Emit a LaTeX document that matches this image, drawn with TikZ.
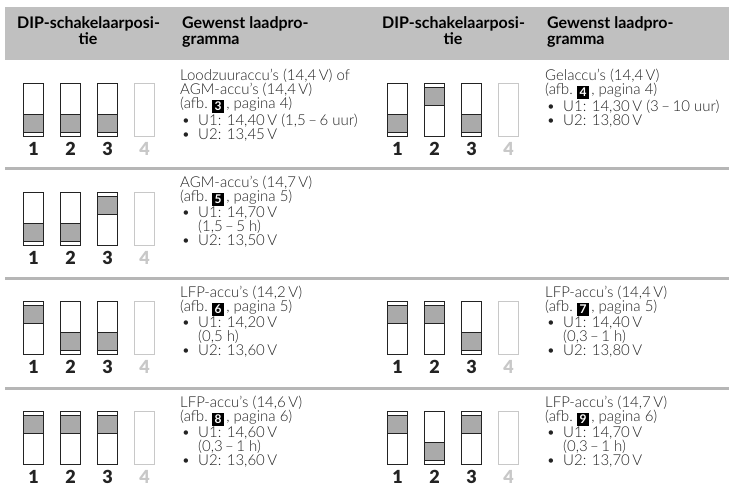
\documentclass[tikz,border=0pt]{standalone}
\usepackage{fontspec}
\setmainfont{Lato}[UprightFont=* Light, BoldFont=* Bold]
\newfontfamily\digitfont{Lato Black}
\usetikzlibrary{positioning}
\definecolor{hdrgray}{RGB}{192,192,192}
\definecolor{rulegray}{RGB}{182,182,182}
\definecolor{slidegray}{RGB}{170,170,170}
\definecolor{offgray}{RGB}{200,200,200}
\definecolor{ink}{RGB}{35,35,35}
\newcommand{\fignr}[1]{{\setlength{\fboxsep}{2.2pt}\raisebox{-2pt}{\colorbox{black}{\makebox[8pt]{\textcolor{white}{\fontsize{12}{12}\selectfont\bfseries #1}}}}\hspace{2pt}}}
\newcommand{\bul}{\makebox[18pt][l]{\hspace{1.5pt}\textbullet}}
\newcommand{\ind}{\hspace*{18pt}}
\begin{document}
\fontsize{15}{14}\selectfont
\begin{tikzpicture}[x=1pt,y=-1pt,
    sw/.style={draw=ink,line width=1.1pt,minimum width=20pt,minimum height=53pt,inner sep=0,anchor=north west},
    slider/.style={draw=ink,fill=slidegray,line width=1.1pt,minimum width=20pt,minimum height=18pt,inner sep=0},
    digit/.style={font=\fontsize{18}{18}\selectfont\digitfont,text=ink,anchor=base,inner sep=0},
    txt/.style={font=\fontsize{15}{14}\selectfont,text=ink,align=left,anchor=north west,inner sep=0},
    hdr/.style={font=\fontsize{16}{16}\selectfont\bfseries,text=black,inner sep=0}]
  % #1 name, #2 x, #3 top, #4-#6 slider up (1) or down (0)
  \newcommand{\dip}[6]{%
    \foreach \k/\s in {1/#4,2/#5,3/#6}{%
      \node[sw] (#1-\k) at ({#2+(\k-1)*37},#3) {};
      \ifnum\s=1
        \node[slider,anchor=north] (#1-\k-s) at ([yshift=-4pt]#1-\k.north) {};
      \else
        \node[slider,anchor=south] (#1-\k-s) at ([yshift=4pt]#1-\k.south) {};
      \fi
      \node[digit] (#1-n\k) at ([yshift=-72pt]#1-\k.north) {\k};
    }
    \node[sw,draw=offgray] (#1-4) at ({#2+111},#3) {};
    \node[digit,text=offgray] (#1-n4) at ([yshift=-72pt]#1-4.north) {4};
  }
  \useasboundingbox (0,0) rectangle (729,496);
  % header
  \fill[hdrgray] (5,7) rectangle (729,60);
  \foreach \dx/\t in {0/l,365/r}{
    \node[hdr,anchor=base west] (h\t-dip) at (17+\dx,28) {DIP-schakelaarposi-};
    \node[hdr,anchor=base] (h\t-tie) at (88+\dx,44) {tie};
    \node[hdr,anchor=base west] (h\t-prog) at (182+\dx,28) {Gewenst laadpro-};
    \node[hdr,anchor=base west] (h\t-gram) at (182+\dx,44) {gramma};
  }
  % row rules
  \foreach \y in {168.5,278.5,388.5}
    \draw[rulegray,line width=3pt] (5,\y) -- (729,\y);
  % switches
  \dip{a}{23}{83}{0}{0}{0}
  \dip{b}{387}{83}{0}{1}{0}
  \dip{c}{23}{192}{0}{0}{1}
  \dip{e}{23}{301}{1}{0}{0}
  \dip{f}{387}{301}{1}{1}{0}
  \dip{g}{23}{411}{1}{1}{1}
  \dip{h}{387}{411}{1}{0}{1}
  % programmes
  \node[txt] (ta) at (180,69) {Loodzuuraccu’s (14,4\,V) of\\AGM-accu’s (14,4\,V)\\(afb.~\fignr{3}, pagina 4)\\\bul U1: 14,40\,V (1,5\,–\,6 uur)\\\bul U2: 13,45\,V};
  \node[txt] (tb) at (545,69) {Gelaccu’s (14,4\,V)\\(afb.~\fignr{4}, pagina 4)\\\bul U1: 14,30\,V (3\,–\,10 uur)\\\bul U2: 13,80\,V};
  \node[txt] (tc) at (180,176) {AGM-accu’s (14,7\,V)\\(afb.~\fignr{5}, pagina 5)\\\bul U1: 14,70\,V\\\ind(1,5\,–\,5 h)\\\bul U2: 13,50\,V};
  \node[txt] (te) at (180,286) {LFP-accu’s (14,2\,V)\\(afb.~\fignr{6}, pagina 5)\\\bul U1: 14,20\,V\\\ind(0,5 h)\\\bul U2: 13,60\,V};
  \node[txt] (tf) at (545,286) {LFP-accu’s (14,4\,V)\\(afb.~\fignr{7}, pagina 5)\\\bul U1: 14,40\,V\\\ind(0,3\,–\,1 h)\\\bul U2: 13,80\,V};
  \node[txt] (tg) at (180,396) {LFP-accu’s (14,6\,V)\\(afb.~\fignr{8}, pagina 6)\\\bul U1: 14,60\,V\\\ind(0,3\,–\,1 h)\\\bul U2: 13,60\,V};
  \node[txt] (th) at (545,396) {LFP-accu’s (14,7\,V)\\(afb.~\fignr{9}, pagina 6)\\\bul U1: 14,70\,V\\\ind(0,3\,–\,1 h)\\\bul U2: 13,70\,V};
\end{tikzpicture}
\end{document}
